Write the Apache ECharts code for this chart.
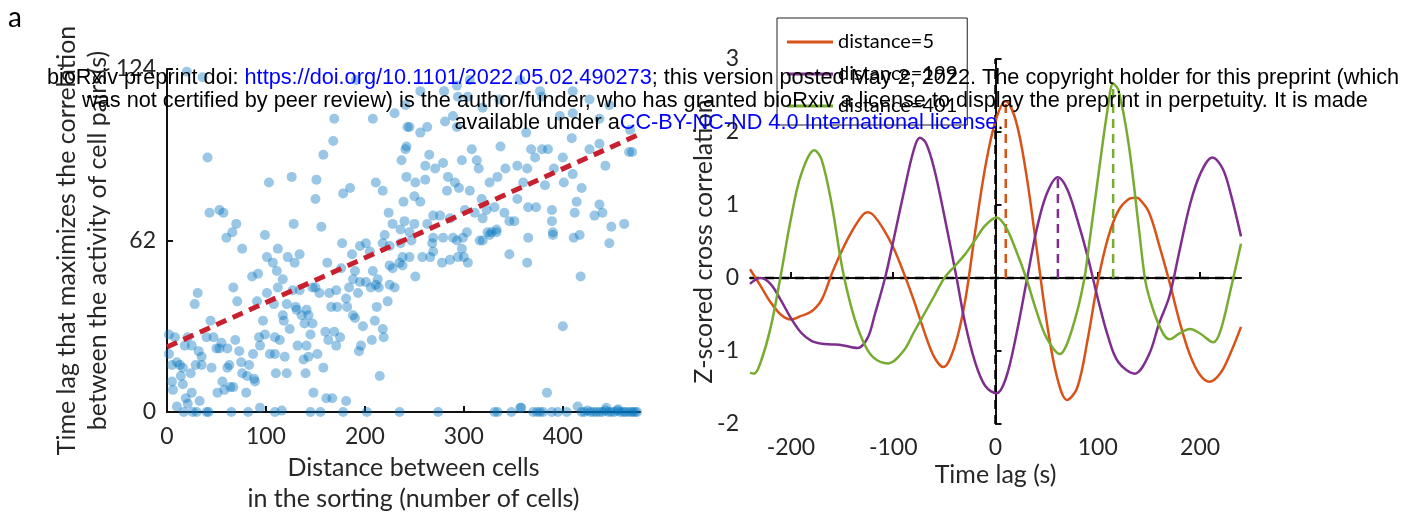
<!DOCTYPE html>
<html>
<head>
<meta charset="utf-8">
<script src="https://cdn.jsdelivr.net/npm/echarts@6/dist/echarts.min.js"></script>
<style>
  html, body { margin: 0; padding: 0; background: #fff; }
  #chart { width: 1417px; height: 517px; }
</style>
</head>
<body>
<div id="chart"></div>
<script>
// left panel: [distance between cells, time lag (s)]
var cellPairs = [
  [20,123],[36,121],[191,120],[241,111],[169,106],[243,103],[168,98],[158,93],[242,96],[237,91],[41,92],
  [126,85],[103,83],[151,84],[211,83],[218,80],[185,81],[178,79],[150,77],[239,76],[43,72],[53,73],[57,72],
  [70,68],[128,68],[156,67],[224,72],[228,68],[240,69],[236,66],[66,65],[60,63],[99,64],[220,64],
  [294,114],[304,114],[281,105],[289,107],[245,103],[256,101],[263,103],[293,103],[363,101],[379,114],
  [397,107],[410,108],[409,99],[437,97],[427,95],[385,95],[368,95],[379,95],[337,96],[308,95],[241,95],
  [265,93],[279,90],[298,91],[313,91],[315,88],[372,92],[400,92],[410,86],[391,88],[443,89],[467,94],
  [470,94],[271,88],[261,89],[242,85],[251,83],[261,84],[284,85],[291,83],[295,81],[283,80],[306,80],
  [318,77],[326,83],[334,85],[342,88],[354,89],[364,88],[360,83],[382,82],[401,83],[419,81],[354,77],
  [365,74],[373,74],[389,73],[414,76],[437,75],[432,71],[440,72],[412,72],[250,78],[256,76],[269,71],
  [276,71],[286,70],[263,68],[250,68],[301,73],[311,72],[323,73],[319,70],[331,74],[341,72],[346,69],
  [351,69],[389,69],[449,67],[462,68],[303,65],[328,65],[390,65],[417,64],[245,65],[269,63],[289,63],
  [324,65],[333,66],
  [256,116],[280,116],[293,118],[306,120],[336,113],[357,120],[377,116],[410,116],[427,113],[447,111],
  [437,106],[468,102],[319,110],[230,108],[208,106],
  [76,59],[112,59],[101,56],[107,54],[111,51],[122,56],[129,54],[134,57],[86,49],[92,50],[117,48],[31,43],
  [28,39],[67,45],[71,40],[91,40],[101,43],[112,45],[108,39],[121,39],[127,44],[134,44],[130,38],[141,37],
  [143,35],[147,45],[150,45],[154,43],[164,43],[171,44],[177,61],[195,60],[201,61],[205,58],[187,57],
  [162,54],[176,52],[190,51],[208,51],[218,61],[225,60],[236,61],[238,56],[228,52],[235,54],[225,53],
  [188,48],[195,47],[201,47],[206,45],[211,46],[213,48],[214,45],[225,46],[230,45],[184,45],[193,43],
  [181,41],[182,38],[172,38],[166,38],[188,35],[190,34],[212,38],[223,40],[210,33],[198,31],[218,30],
  [219,27],[207,26],[196,24],[194,22],[215,13],[131,37],[136,35],[139,32],[147,32],[145,28],[132,24],
  [141,24],[152,21],[138,19],[140,14],[158,16],[148,7],[161,5],[167,5],[181,4],[160,29],[163,26],[169,29],
  [171,24],[175,27],[97,33],[93,27],[94,24],[99,28],[104,21],[109,21],[119,20],[110,14],[121,14],[117,35],
  [118,33],[124,30],[87,21],[83,17],[88,12],[89,11],[75,18],[76,14],[81,13],[73,22],[69,26],[61,23],
  [63,17],[61,16],[64,9],[58,8],[56,11],[51,7],[80,7],[67,9],[53,23],[55,25],[50,23],[47,27],[44,33],
  [40,27],[32,22],[35,20],[35,17],[24,14],[29,17],[25,24],[21,27],[18,24],[8,27],[2,28],[2,21],[5,17],
  [10,18],[13,17],[16,16],[14,13],[16,10],[5,11],[6,8],[19,5],[21,3],[25,7],[33,4],[45,16],[109,27],
  [114,26],[143,20],
  [247,62],[268,61],[269,58],[279,63],[293,62],[298,59],[299,63],[316,62],[319,62],[326,64],[333,65],
  [238,53],[245,56],[258,56],[266,56],[278,54],[286,55],[294,56],[300,56],[304,54],[251,49],[346,57],
  [364,54],[365,63],[390,64],[411,63],[447,61],[418,49],[400,31],[384,7],[415,2],[444,1.5],[456,1],[357,1.5],
  [10,2],[17,0],[26,0],[30,0],[40,0],[42,0],[65,0],[82,0],[94,1.5],[109,0],[116,0.5],[145,0],[155,0],
  [178,0],[202,0],[235,0],[274,0],[331,0],[334,0],[348,0],[358,1.5],[370,0],[374,0],[377,0],[380,0],
  [389,0],[395,0],[404,0],[419,0],[422,0],[425,0.5],[428,0],[431,0],[434,0],[437,0],[440,0],[443,0.5],
  [446,0],[449,0],[452,0],[455,0.5],[458,0],[461,0],[463,0],[466,0],[469,0],[471,0],[473,0],[475,0]
];
var fitLine = [[0, 23.5], [475, 100]];
var distanceTicks = [0, 100, 200, 300, 400];

// right panel: [time lag (s), z-scored cross correlation]
var dist5 = [
  [-240,0.12],[-230,-0.1],[-220,-0.33],[-210,-0.5],[-200,-0.57],[-190,-0.52],[-180,-0.46],[-170,-0.3],
  [-160,0.06],[-150,0.38],[-140,0.65],[-130,0.86],[-125,0.9],[-120,0.87],[-110,0.68],[-100,0.42],
  [-90,0.08],[-80,-0.3],[-70,-0.72],[-60,-1.08],[-51,-1.22],[-40,-0.94],[-30,-0.34],[-20,0.62],
  [-10,1.52],[0,2.15],[10,2.42],[20,2.15],[30,1.43],[40,0.43],[50,-0.59],[60,-1.35],[70,-1.67],
  [80,-1.5],[90,-0.85],[100,-0.05],[110,0.55],[120,0.92],[130,1.08],[137,1.1],[140,1.09],[150,0.9],
  [160,0.45],[170,-0.05],[180,-0.6],[190,-1.05],[200,-1.33],[209,-1.42],[220,-1.3],[230,-1.02],[240,-0.67]
];
var dist199 = [
  [-240,-0.08],[-230,0.0],[-220,-0.08],[-210,-0.3],[-200,-0.55],[-190,-0.75],[-180,-0.86],[-170,-0.9],
  [-160,-0.91],[-150,-0.92],[-135,-0.96],[-125,-0.82],[-118,-0.5],[-108,0],[-100,0.5],[-90,1.15],
  [-80,1.75],[-74,1.92],[-68,1.85],[-60,1.5],[-50,0.85],[-38,0],[-30,-0.6],[-20,-1.15],[-10,-1.48],
  [1,-1.58],[10,-1.38],[20,-0.8],[31,0],[40,0.65],[50,1.15],[61,1.38],[70,1.22],[80,0.8],[90,0.3],
  [100,-0.28],[110,-0.8],[120,-1.15],[136,-1.31],[150,-1.05],[160,-0.62],[170,-0.25],[180,0.38],
  [190,1.0],[200,1.42],[212,1.65],[222,1.5],[230,1.15],[240,0.57]
];
var dist401 = [
  [-240,-1.3],[-236,-1.31],[-230,-1.17],[-220,-0.69],[-210,0.03],[-200,0.81],[-190,1.42],[-177,1.75],
  [-170,1.62],[-160,1.0],[-150,0.15],[-140,-0.45],[-130,-0.85],[-120,-1.08],[-105,-1.17],[-90,-1.0],
  [-80,-0.75],[-70,-0.5],[-60,-0.25],[-50,0.0],[-40,0.16],[-30,0.32],[-20,0.52],[-10,0.72],[1,0.83],
  [10,0.7],[20,0.38],[30,0.0],[40,-0.45],[50,-0.82],[63,-1.04],[70,-0.9],[80,-0.45],[87,0],[90,0.3],
  [100,1.35],[110,2.35],[115,2.66],[120,2.58],[130,1.85],[140,0.7],[146,0],[150,-0.25],[160,-0.65],
  [170,-0.84],[180,-0.76],[190,-0.7],[200,-0.76],[213,-0.88],[220,-0.72],[230,-0.15],[240,0.47]
];
var seriesNames = ['distance=5', 'distance=199', 'distance=401'];
var seriesColors = ['#D95319', '#7E2F8E', '#77AC30'];
var peakLags = [10, 61, 115];
var peakValues = [2.42, 1.38, 2.66];
var lagTicks = [-200, -100, 0, 100, 200];

var font = 'Lato';
var textColor = '#262626';
var tickLine = { color: '#111', width: 2 };

function axisBase(extra) {
  var a = {
    axisLine: { show: true, lineStyle: tickLine },
    axisTick: { show: true, inside: true, length: 6, lineStyle: tickLine },
    axisLabel: { color: textColor, fontSize: 23, fontFamily: font, margin: 11 },
    splitLine: { show: false },
    nameLocation: 'middle',
    nameMoveOverlap: false,
    nameTextStyle: { color: textColor, fontSize: 25, fontFamily: font, lineHeight: 31 }
  };
  for (var k in extra) a[k] = extra[k];
  return a;
}

var chart = echarts.init(document.getElementById('chart'));

var lineSeries = [];
[dist5, dist199, dist401].forEach(function (d, i) {
  lineSeries.push({
    name: seriesNames[i],
    type: 'line',
    xAxisIndex: 1, yAxisIndex: 1,
    data: d,
    smooth: 0.35,
    showSymbol: false,
    lineStyle: { color: seriesColors[i], width: 2.5 },
    itemStyle: { color: seriesColors[i] },
    z: 3
  });
  // dashed marker from zero to the peak
  lineSeries.push({
    name: 'peak' + i,
    type: 'line',
    xAxisIndex: 1, yAxisIndex: 1,
    data: [[peakLags[i], 0], [peakLags[i], peakValues[i]]],
    showSymbol: false,
    lineStyle: { color: seriesColors[i], width: 2.5, type: [9, 6] },
    z: 2
  });
});

var option = {
  backgroundColor: '#fff',
  animation: false,
  grid: [
    { left: 167, top: 69, width: 473, height: 343, outerBoundsMode: 'none' },
    { left: 750, top: 59, width: 491, height: 365, outerBoundsMode: 'none' }
  ],
  legend: {
    data: seriesNames,
    orient: 'vertical',
    left: 777, top: 18,
    padding: [14, 10, 9, 10],
    itemGap: 12,
    itemWidth: 46, itemHeight: 3,
    icon: 'rect',
    borderColor: '#222', borderWidth: 1,
    backgroundColor: '#fff',
    textStyle: { color: '#000', fontSize: 20, fontFamily: font }
  },
  xAxis: [
    axisBase({
      gridIndex: 0, type: 'value', min: 0, max: 478,
      axisTick: { show: true, inside: true, length: 6, customValues: distanceTicks, lineStyle: tickLine },
      axisLabel: { color: textColor, fontSize: 23, fontFamily: font, margin: 13, customValues: distanceTicks },
      name: 'Distance between cells\nin the sorting (number of cells)',
      nameGap: 40,
      nameTextStyle: { color: textColor, fontSize: 25, fontFamily: font, lineHeight: 31, padding: [0, 0, 0, 20] }
    }),
    axisBase({
      gridIndex: 1, type: 'value', min: -240, max: 240,
      axisTick: { show: true, inside: true, length: 6, customValues: lagTicks, lineStyle: tickLine },
      axisLabel: { color: textColor, fontSize: 23, fontFamily: font, margin: 12, customValues: lagTicks },
      name: 'Time lag (s)',
      nameGap: 35
    })
  ],
  yAxis: [
    axisBase({
      gridIndex: 0, type: 'value', min: 0, max: 124, interval: 62,
      name: 'Time lag that maximizes the correlation\nbetween the activity of cell pairs(s)',
      nameGap: 54
    }),
    axisBase({
      gridIndex: 1, type: 'value', min: -2, max: 3, interval: 1,
      name: 'Z-scored cross correlation',
      nameGap: 31
    })
  ],
  series: [
    {
      name: 'pairs',
      type: 'scatter',
      xAxisIndex: 0, yAxisIndex: 0,
      data: cellPairs,
      symbolSize: 10,
      clip: false,
      itemStyle: { color: 'rgba(0,114,189,0.5)' },
      z: 2
    },
    {
      name: 'fit',
      type: 'line',
      xAxisIndex: 0, yAxisIndex: 0,
      data: fitLine,
      showSymbol: false,
      lineStyle: { color: '#C8202F', width: 5, type: [11, 7] },
      z: 3
    },
    {
      name: 'zeroLine',
      type: 'line',
      xAxisIndex: 1, yAxisIndex: 1,
      data: [[-240, 0], [235, 0]],
      showSymbol: false,
      lineStyle: { color: '#000', width: 2.5, type: [9, 6] },
      z: 1
    },
    {
      name: 'zeroLag',
      type: 'line',
      xAxisIndex: 1, yAxisIndex: 1,
      data: [[0, -2], [0, 3]],
      showSymbol: false,
      lineStyle: { color: '#000', width: 2.5, type: [9, 6] },
      z: 1
    }
  ].concat(lineSeries),
  graphic: [
    {
      type: 'text', left: 8, top: 4, z: 100,
      style: { text: 'a', fontSize: 28, fontFamily: font, fill: '#000' }
    },
    {
      type: 'text', x: 723, y: 78, z: 100,
      style: {
        text: '{k|bioRxiv preprint doi: }{b|https://doi.org/10.1101/2022.05.02.490273}{k|; this version posted May 2, 2022. The copyright holder for this preprint (which}',
        align: 'center', verticalAlign: 'middle',
        rich: {
          k: { fontSize: 21.7, fontFamily: 'Liberation Sans', fill: '#000' },
          b: { fontSize: 21.7, fontFamily: 'Liberation Sans', fill: '#0000ff' }
        }
      }
    },
    {
      type: 'text', x: 725, y: 101, z: 100,
      style: {
        text: 'was not certified by peer review) is the author/funder, who has granted bioRxiv a license to display the preprint in perpetuity. It is made',
        align: 'center', verticalAlign: 'middle',
        fontSize: 21.7, fontFamily: 'Liberation Sans', fill: '#000'
      }
    },
    {
      type: 'text', x: 729, y: 123, z: 100,
      style: {
        text: '{k|available under a}{b|CC-BY-NC-ND 4.0 International license}{k|.}',
        align: 'center', verticalAlign: 'middle',
        rich: {
          k: { fontSize: 21.7, fontFamily: 'Liberation Sans', fill: '#000' },
          b: { fontSize: 21.7, fontFamily: 'Liberation Sans', fill: '#0000ff' }
        }
      }
    }
  ]
};

chart.setOption(option);
</script>
</body>
</html>
